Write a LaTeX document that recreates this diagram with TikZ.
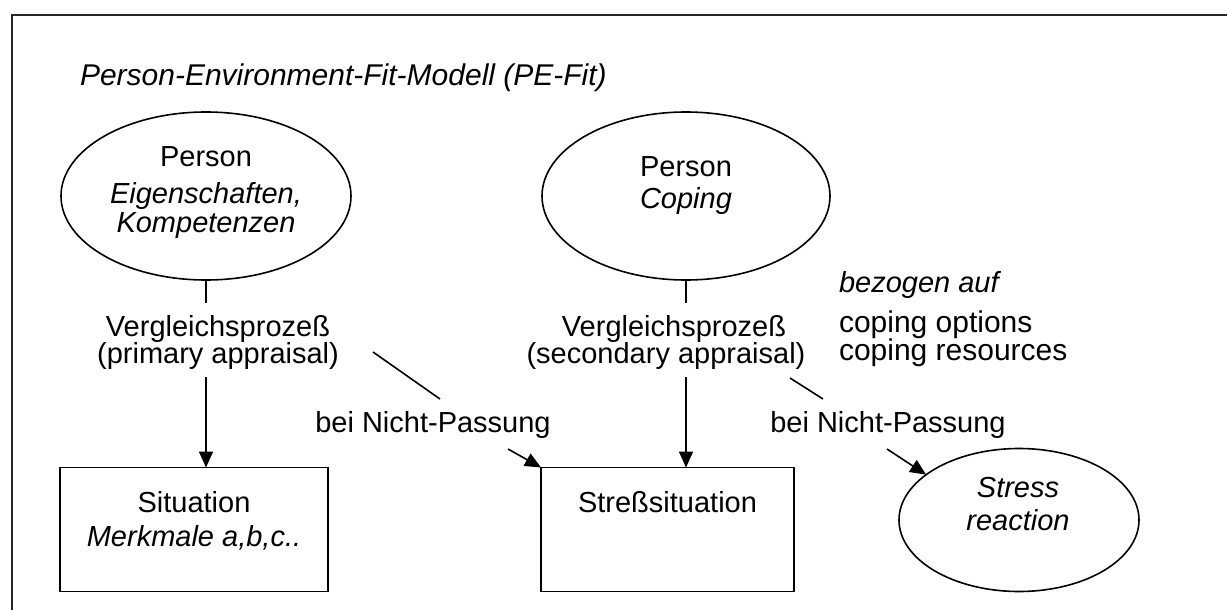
\documentclass[tikz,border=0pt]{standalone}
\usepackage{fontspec}
\setmainfont{Liberation Sans}
\usetikzlibrary{shapes.geometric,arrows.meta}

\begin{document}
\begin{tikzpicture}[x=1pt,y=-1pt,
  every node/.style={inner sep=0pt, outer sep=0pt},
  txt/.style={anchor=base, font=\fontsize{29}{34}\selectfont},
  itxt/.style={anchor=base, font=\fontsize{29}{34}\selectfont\itshape},
  oval/.style={draw, ellipse, line width=1.6pt},
  box/.style={draw, rectangle, line width=1.6pt},
  conn/.style={line width=1.6pt},
  arr/.style={conn, -{Triangle[length=16pt,width=14pt]}},
  frame/.style={line width=2.2pt, draw=black!85}
]
\useasboundingbox (0,0) rectangle (1227,610);

% outer frame (open to the right and bottom)
\draw[frame] (12,612) -- (12,15) -- (1229,15);

% title
\node[itxt, anchor=base west, font=\fontsize{30}{34}\selectfont\itshape] (title) at (80,85) {Person-Environment-Fit-Modell (PE-Fit)};

% person: traits and competences
\node[oval, minimum width=290pt, minimum height=168pt] (p1) at (206,196) {};
\node[txt]  (p1a) at (206,166) {Person};
\node[itxt] (p1b) at (206,203) {Eigenschaften,};
\node[itxt] (p1c) at (206,232) {Kompetenzen};

% person: coping
\node[oval, minimum width=288pt, minimum height=168pt] (p2) at (686,196) {};
\node[txt]  (p2a) at (686,176) {Person};
\node[itxt] (p2b) at (686,208) {Coping};

% comparison processes
\node[txt] (v1a) at (218,336) {Vergleichsprozeß};
\node[txt] (v1b) at (218,363) {(primary appraisal)};
\node[txt] (v2a) at (674,336) {Vergleichsprozeß};
\node[txt] (v2b) at (666,363) {(secondary appraisal)};

% reference of the secondary appraisal
\node[itxt, anchor=base west] (bz)  at (839,292) {bezogen auf};
\node[txt,  anchor=base west, font=\fontsize{30}{34}\selectfont] (co1) at (839,332) {coping options};
\node[txt,  anchor=base west, font=\fontsize{30}{34}\selectfont] (co2) at (839,360) {coping resources};

% situation boxes
\node[box, minimum width=268pt, minimum height=124pt] (sit) at (194,529.5) {};
\node[txt]  (sita) at (194,512) {Situation};
\node[itxt] (sitb) at (194,546) {Merkmale a,b,c..};

\node[box, minimum width=253pt, minimum height=124pt] (str) at (667.5,529.5) {};
\node[txt] (stra) at (667.5,512) {Streßsituation};

% stress reaction
\node[oval, minimum width=240pt, minimum height=143pt] (sr) at (1019,520) {};
\node[itxt] (sra) at (1018,497) {Stress};
\node[itxt] (srb) at (1018,530) {reaction};

% mismatch labels
\node[txt] (np1) at (433,432) {bei Nicht-Passung};
\node[txt] (np2) at (888,432) {bei Nicht-Passung};

% connector end points
\coordinate (j1) at (206,303);
\coordinate (j2) at (686,303);
\coordinate (a1) at (206,377);
\coordinate (a2) at (686,377);
\coordinate (d1s) at (373,352);
\coordinate (d1e) at (440,399);
\coordinate (d1b) at (508,449);
\coordinate (d2s) at (790,378);
\coordinate (d2e) at (823,399);
\coordinate (d2b) at (887,449);

% connectors
\draw[conn] (p1.south) -- (j1);
\draw[conn] (p2.south) -- (j2);
\draw[arr] (a1) -- (a1 |- sit.north);
\draw[arr] (a2) -- (a2 |- str.north);
\draw[conn] (d1s) -- (d1e);
\draw[arr] (d1b) -- (str.north west);
\draw[conn] (d2s) -- (d2e);
\draw[arr] (d2b) -- (sr.154);
\end{tikzpicture}
\end{document}
